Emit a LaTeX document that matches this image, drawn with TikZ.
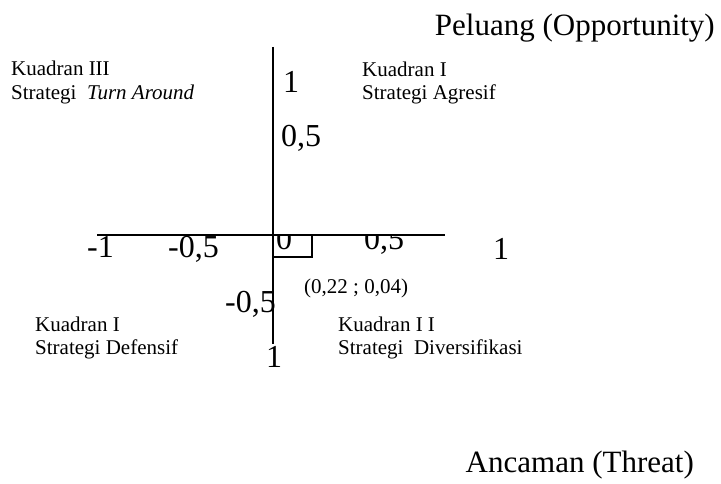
\documentclass[tikz,border=0pt]{standalone}
\usepackage{fontspec}
\setmainfont{Liberation Serif}
\begin{document}
\begin{tikzpicture}[x=1pt,y=-1pt,
  lbl/.style={inner sep=0pt,anchor=base west,font=\fontsize{21}{24}\selectfont},
  num/.style={inner sep=0pt,anchor=base west,font=\fontsize{32}{36}\selectfont},
  big/.style={inner sep=0pt,anchor=base east,font=\fontsize{31}{35}\selectfont},
  axis/.style={line width=2pt}]
\useasboundingbox[fill=white] (0,0) rectangle (721,484);
% axes
\coordinate (vt) at (273,47);
\coordinate (vb) at (273,344);
\coordinate (hl) at (97,235);
\coordinate (hr) at (445,235);
\coordinate (sq1) at (273,235);
\coordinate (sq2) at (312,257);
% labels clipped by the axis
\begin{scope}
\clip (0,236) rectangle (721,484);
\node[num] (zero) at (276,250) {0};
\node[num] (halfx) at (364,250) {0,5};
\end{scope}
\draw[axis] (vt) -- (vb);
\draw[axis] (hl) -- (hr);
\draw[axis] (sq1) rectangle (sq2);
% titles
\node[big] (opp) at (715,36) {Peluang (Opportunity)};
\node[big] (thr) at (694,472) {Ancaman (Threat)};
% quadrants
\node[lbl] (q3a) at (11,76) {Kuadran III};
\node[lbl] (q3b) at (11,100) {Strategi \ \textit{Turn Around}};
\node[lbl] (q1a) at (362,77) {Kuadran I};
\node[lbl] (q1b) at (362,100) {Strategi Agresif};
\node[lbl] (q4a) at (35,331) {Kuadran I};
\node[lbl] (q4b) at (35,354) {Strategi Defensif};
\node[lbl] (q2a) at (338,331) {Kuadran I I};
\node[lbl] (q2b) at (338,354) {Strategi \ Diversifikasi};
% numbers
\node[num] (ytop) at (283,93) {1};
\node[num] (yhalf) at (281,147) {0,5};
\node[num] (xm1) at (87,258) {-1};
\node[num] (xmhalf) at (168,258) {-0,5};
\node[num] (x1) at (493,259) {1};
\node[lbl] (pt) at (304,294) {(0,22 ; 0,04)};
\node[num] (ymhalf) at (225,312) {-0,5};
\node[num] (ybot) at (266,367) {1};
\end{tikzpicture}
\end{document}
